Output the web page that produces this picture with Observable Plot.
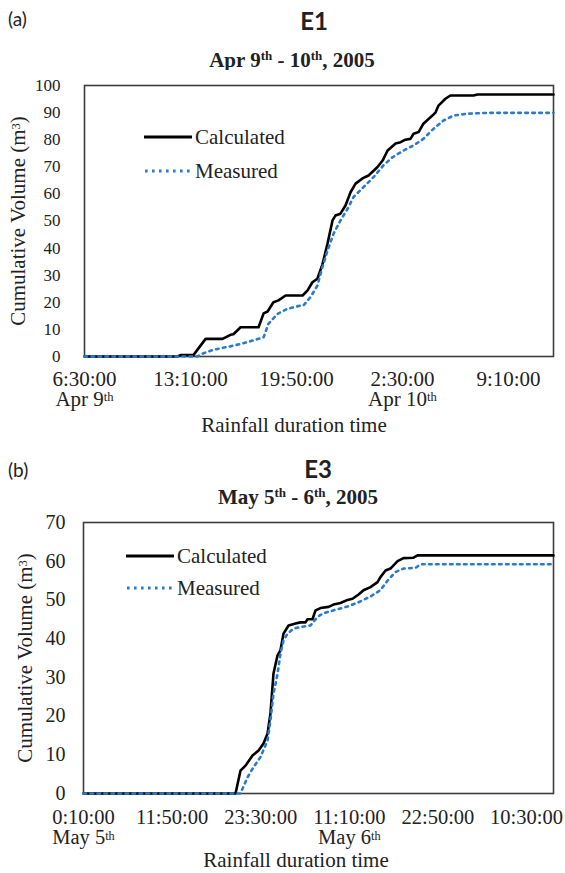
<!DOCTYPE html>
<html>
<head>
<meta charset="utf-8">
<script src="https://cdn.jsdelivr.net/npm/d3@7"></script>
<script src="https://cdn.jsdelivr.net/npm/@observablehq/plot@0.6"></script>
<style>
  html, body { margin: 0; padding: 0; background: #fff; }
  body { width: 565px; height: 873px; position: relative; overflow: hidden;
         font-family: "Liberation Serif", "Times New Roman", serif; color: #222; }
  .abs { position: absolute; white-space: nowrap; line-height: 1; }
  .tag { font-family: Lato, "Liberation Sans", sans-serif; font-size: 19px; }
  .event { font-family: Lato, "Open Sans", sans-serif; font-weight: 700; font-size: 24px; transform: translateX(-50%); }
  .sub { font-weight: 700; font-size: 21px; transform: translateX(-50%); }
  .xtitle { font-size: 21px; transform: translateX(-50%); }
  sup { font-size: 0.62em; vertical-align: 0.55em; line-height: 0; }
  .leg { display: flex; align-items: center; height: 26px; font-size: 21px; }
  .leg svg { margin-right: 3px; }
  .chart { position: absolute; left: 0; }
</style>
</head>
<body>
<div class="abs tag" style="left:8px; top:9px;">(a)</div>
<div class="abs event" style="left:314px; top:9px;">E1</div>
<div class="abs sub" style="left:292px; top:50px;">Apr 9<sup>th</sup> - 10<sup>th</sup>, 2005</div>
<div id="chartA" class="chart" style="top:70px;"></div>
<div class="abs xtitle" style="left:294px; top:415px;">Rainfall duration time</div>

<div class="abs tag" style="left:8px; top:460px;">(b)</div>
<div class="abs event" style="left:318px; top:457px;">E3</div>
<div class="abs sub" style="left:298px; top:487px;">May 5<sup>th</sup> - 6<sup>th</sup>, 2005</div>
<div id="chartB" class="chart" style="top:510px;"></div>
<div class="abs xtitle" style="left:296px; top:850px;">Rainfall duration time</div>

<div id="legendA"></div>
<div id="legendB"></div>

<script>
// ---- Event E1: Apr 9th - 10th, 2005 ----
const e1CalcTime = ["2005-04-09 06:30","2005-04-09 12:21","2005-04-09 12:32","2005-04-09 13:21","2005-04-09 14:07",
  "2005-04-09 15:11","2005-04-09 15:41","2005-04-09 15:52","2005-04-09 16:19","2005-04-09 17:27","2005-04-09 17:46",
  "2005-04-09 18:01","2005-04-09 18:23","2005-04-09 18:42","2005-04-09 19:09","2005-04-09 20:13","2005-04-09 20:32",
  "2005-04-09 20:50","2005-04-09 21:09","2005-04-09 21:28","2005-04-09 21:47","2005-04-09 22:06","2005-04-09 22:17",
  "2005-04-09 22:36","2005-04-09 22:55","2005-04-09 23:14","2005-04-09 23:33","2005-04-09 23:59","2005-04-10 00:22",
  "2005-04-10 00:56","2005-04-10 01:15","2005-04-10 01:34","2005-04-10 02:04","2005-04-10 02:23","2005-04-10 02:41",
  "2005-04-10 03:00","2005-04-10 03:12","2005-04-10 03:31","2005-04-10 03:49","2005-04-10 04:23","2005-04-10 04:35",
  "2005-04-10 04:46","2005-04-10 05:12","2005-04-10 05:31","2005-04-10 06:58","2005-04-10 07:13","2005-04-10 12:00"];
const e1CalcVol = [0,0,0.5,0.5,6.5,6.5,8,8.2,10.8,10.8,15.9,16.6,20,20.7,22.5,22.5,24.4,27.4,28.7,34,41.6,50.2,52,
  52.7,55.7,60.6,63.8,65.7,66.8,69.9,72.3,76,78.6,79.1,80,80.3,82.2,82.8,85.9,88.9,90.1,92.6,95.1,96.3,96.3,96.7,96.7];

const e1MeasTime = ["2005-04-09 06:30","2005-04-09 13:36","2005-04-09 13:59","2005-04-09 14:37","2005-04-09 15:52",
  "2005-04-09 16:45","2005-04-09 17:46","2005-04-09 18:04","2005-04-09 18:38","2005-04-09 19:16","2005-04-09 20:05",
  "2005-04-09 20:16","2005-04-09 20:43","2005-04-09 21:09","2005-04-09 21:28","2005-04-09 21:47","2005-04-09 22:10",
  "2005-04-09 22:36","2005-04-09 23:03","2005-04-09 23:25","2005-04-10 00:03","2005-04-10 00:41","2005-04-10 01:18",
  "2005-04-10 01:52","2005-04-10 02:34","2005-04-10 03:12","2005-04-10 03:49","2005-04-10 04:27","2005-04-10 05:05",
  "2005-04-10 05:43","2005-04-10 06:35","2005-04-10 07:51","2005-04-10 12:00"];
const e1MeasVol = [0,0,1.2,2.5,4,5.3,7.1,12,15.7,17.6,18.8,18.8,21.9,26.2,33,39,45.3,50.2,54.5,58.8,62.5,66.2,70.5,
  73.5,76,77.9,80.3,84,87.1,88.9,89.6,89.9,89.9];

const e1Domain = ["2005-04-09 06:30", "2005-04-10 12:00"];
const e1Ticks = ["2005-04-09 06:30","2005-04-09 13:10","2005-04-09 19:50","2005-04-10 02:30","2005-04-10 09:10"];
const e1TickLabels = ["6:30:00\nApr 9th","13:10:00","19:50:00","2:30:00\nApr 10th","9:10:00"];

// ---- Event E3: May 5th - 6th, 2005 ----
const e3CalcTime = ["2005-05-05 00:10","2005-05-05 20:11","2005-05-05 20:50","2005-05-05 21:30","2005-05-05 22:25",
  "2005-05-05 23:13","2005-05-05 23:52","2005-05-06 00:24","2005-05-06 00:47","2005-05-06 01:11","2005-05-06 01:43",
  "2005-05-06 02:06","2005-05-06 02:30","2005-05-06 03:10","2005-05-06 04:05","2005-05-06 04:44","2005-05-06 05:24",
  "2005-05-06 05:40","2005-05-06 06:19","2005-05-06 06:43","2005-05-06 07:22","2005-05-06 08:26","2005-05-06 09:05",
  "2005-05-06 10:00","2005-05-06 10:56","2005-05-06 11:35","2005-05-06 12:23","2005-05-06 13:02","2005-05-06 13:57",
  "2005-05-06 14:53","2005-05-06 15:16","2005-05-06 15:56","2005-05-06 16:35","2005-05-06 17:31","2005-05-06 18:18",
  "2005-05-06 19:37","2005-05-06 20:09","2005-05-07 14:03"];
const e3CalcVol = [0,0,5.9,7.2,9.8,11.1,12.9,15.5,20.7,31,35.7,37,41.3,43.4,43.9,44.2,44.2,45,45,47.3,47.9,48.2,48.8,
  49.2,50,50.3,51.4,52.5,53.3,54.6,55.9,57.6,58.1,60,60.8,60.9,61.5,61.5];

const e3MeasTime = ["2005-05-05 00:10","2005-05-05 20:50","2005-05-05 21:46","2005-05-05 22:33","2005-05-05 23:28",
  "2005-05-06 00:24","2005-05-06 00:47","2005-05-06 01:11","2005-05-06 01:43","2005-05-06 02:06","2005-05-06 02:30",
  "2005-05-06 03:02","2005-05-06 03:49","2005-05-06 04:44","2005-05-06 06:03","2005-05-06 06:59","2005-05-06 07:46",
  "2005-05-06 09:05","2005-05-06 10:56","2005-05-06 12:23","2005-05-06 13:57","2005-05-06 15:16","2005-05-06 16:12",
  "2005-05-06 17:15","2005-05-06 18:18","2005-05-06 19:53","2005-05-06 20:32","2005-05-07 14:03"];
const e3MeasVol = [0,0,4.2,6.8,9.4,13.7,18.9,25.8,30.9,36.1,39.5,41.3,42.6,43,43.4,45.6,46.6,47.3,48.3,49.4,50.9,
  52.5,55,57.2,58.1,58.3,59.2,59.2];

const e3Domain = ["2005-05-05 00:10", "2005-05-07 14:03"];
const e3Ticks = ["2005-05-05 00:10","2005-05-05 11:50","2005-05-05 23:30","2005-05-06 11:10","2005-05-06 22:50","2005-05-07 10:30"];
const e3TickLabels = ["0:10:00\nMay 5th","11:50:00","23:30:00","11:10:00\nMay 6th","22:50:00","10:30:00"];

const seriesNames = ["Calculated", "Measured"];
const yTitle = "Cumulative Volume (m3)";

// ---- styling ----
const calcColor = "#000000";
const measColor = "#2a7bcf";
const measDash = "2.6 4.4";
const serif = '"Liberation Serif", "Times New Roman", serif';

const parse = d3.timeParse("%Y-%m-%d %H:%M");
const rows = (times, vols) => times.map((t, i) => ({time: parse(t), vol: vols[i]}));

// Turn "9th" / "(m3)" into real superscripts inside SVG text.
function addSuperscripts(svg) {
  const re = /(\d)(th)|(\(m)(3)(\))/g;
  svg.querySelectorAll("text, tspan").forEach(el => {
    if (el.childNodes.length !== 1 || el.firstChild.nodeType !== 3) return;
    const s = el.textContent;
    re.lastIndex = 0;
    if (!re.test(s)) return;
    re.lastIndex = 0;
    el.textContent = "";
    let last = 0, m;
    while ((m = re.exec(s))) {
      const sup = m[2] || m[4];
      const start = m.index + (m[1] || m[3]).length;
      el.appendChild(document.createTextNode(s.slice(last, start)));
      const t = document.createElementNS("http://www.w3.org/2000/svg", "tspan");
      t.setAttribute("baseline-shift", "36%");
      t.setAttribute("font-size", "60%");
      t.textContent = sup;
      el.appendChild(t);
      last = start + sup.length;
    }
    el.appendChild(document.createTextNode(s.slice(last)));
  });
}

function drawPanel(o) {
  const tickDates = o.ticks.map(parse);
  const labelOf = new Map(tickDates.map((d, i) => [+d, o.tickLabels[i]]));
  const chart = Plot.plot({
    width: 565,
    height: o.height,
    marginTop: o.marginTop,
    marginRight: 12,
    marginBottom: o.marginBottom,
    marginLeft: o.marginLeft,
    style: {fontFamily: serif, fontSize: o.xFont + "px", color: "#222", background: "#fff", overflow: "visible"},
    x: {type: "time", domain: o.domain.map(parse)},
    y: {domain: [0, o.yMax]},
    marks: [
      Plot.axisX({ticks: tickDates, tickFormat: d => labelOf.get(+d), tickSize: 0, tickPadding: o.xPad,
                  label: null, fontSize: o.xFont, lineHeight: 0.95}),
      Plot.axisY({ticks: d3.range(0, o.yMax + 1, o.yStep), tickSize: 0, tickPadding: o.yPad,
                  label: null, fontSize: o.yFont}),
      Plot.frame({stroke: "#3c3c3c", strokeWidth: 1.6}),
      Plot.line(rows(o.calcTime, o.calcVol), {x: "time", y: "vol", stroke: calcColor, strokeWidth: 2.6}),
      Plot.line(rows(o.measTime, o.measVol), {x: "time", y: "vol", stroke: measColor, strokeWidth: 2.6,
                  strokeDasharray: measDash}),
      Plot.text([yTitle], {text: d => d, frameAnchor: "left", textAnchor: "middle", dx: o.titleDx,
                  rotate: -90, fontSize: 21})
    ]
  });
  addSuperscripts(chart);
  document.getElementById(o.target).appendChild(chart);
}

function drawLegend(target, left, top, gap) {
  const box = document.getElementById(target);
  box.style.cssText = `position:absolute; left:${left}px; top:${top}px;`;
  seriesNames.forEach((name, i) => {
    const row = document.createElement("div");
    row.className = "leg";
    row.style.marginBottom = i === 0 ? gap + "px" : "0";
    const dotted = i === 1;
    row.innerHTML =
      `<svg width="48" height="6"><line x1="${dotted ? 1 : 0}" x2="${dotted ? 46 : 48}" y1="3" y2="3"
        stroke="${dotted ? measColor : calcColor}" stroke-width="2.8" ${dotted ? `stroke-dasharray="${measDash}"` : ""}/></svg>` +
      `<span>${name}</span>`;
    box.appendChild(row);
  });
}

drawPanel({target: "chartA", height: 372, marginTop: 15, marginBottom: 86, marginLeft: 84,
  calcTime: e1CalcTime, calcVol: e1CalcVol, measTime: e1MeasTime, measVol: e1MeasVol,
  domain: e1Domain, ticks: e1Ticks, tickLabels: e1TickLabels,
  yMax: 100, yStep: 10, xFont: 21, yFont: 17, xPad: 15, yPad: 24, titleDx: -66});

drawPanel({target: "chartB", height: 363, marginTop: 12, marginBottom: 80, marginLeft: 83,
  calcTime: e3CalcTime, calcVol: e3CalcVol, measTime: e3MeasTime, measVol: e3MeasVol,
  domain: e3Domain, ticks: e3Ticks, tickLabels: e3TickLabels,
  yMax: 70, yStep: 10, xFont: 20.5, yFont: 20, xPad: 17, yPad: 18, titleDx: -58});

drawLegend("legendA", 144, 124, 8);
drawLegend("legendB", 126, 543, 6);
</script>
</body>
</html>
